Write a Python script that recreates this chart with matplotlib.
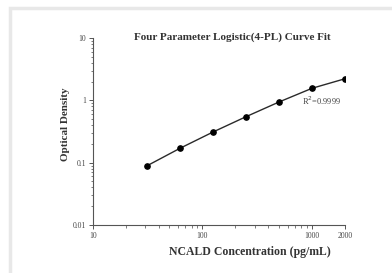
import matplotlib.pyplot as plt
import matplotlib.ticker as mticker
from matplotlib.patches import Rectangle

# standard curve values
conc = [31.25, 62.5, 125, 250, 500, 1000, 2000]
od = [0.089, 0.17, 0.31, 0.546, 0.94, 1.56, 2.22]
x_ticks = [10, 100, 1000, 2000]
x_tick_labels = ['10', '100', '1000', '2000']
y_ticks = [0.01, 0.1, 1, 10]
y_tick_labels = ['0.01', '0.1', '1', '10']

plt.rcParams['font.family'] = ['Liberation Serif', 'DejaVu Serif']

fig = plt.figure(figsize=(3.92, 2.73), dpi=100)
fig.patch.set_facecolor('white')

# light grey frame around the picture (top and left edges visible)
fig.patches.append(Rectangle((10 / 392, -0.1), 1.2, (273 - 8) / 273 + 0.1,
                             transform=fig.transFigure, facecolor='none',
                             edgecolor='#e8e8e8', linewidth=2.5))

ax = fig.add_axes([92.7 / 392, 1 - 225 / 273, (345 - 92.7) / 392, (225 - 38) / 273])
ax.plot(conc, od, color='#2a2a2a', linewidth=1.0, marker='o',
        markersize=3.8, markerfacecolor='black', markeredgecolor='black')

ax.set_xscale('log')
ax.set_yscale('log')
ax.set_xlim(10, 2000)
ax.set_ylim(0.01, 10)

for s in ['top', 'right']:
    ax.spines[s].set_visible(False)
for s in ['left', 'bottom']:
    ax.spines[s].set_color('#555555')
    ax.spines[s].set_linewidth(0.8)

ax.set_xticks(x_ticks)
ax.set_xticklabels(x_tick_labels)
ax.set_yticks(y_ticks)
ax.set_yticklabels(y_tick_labels)
ax.xaxis.set_minor_locator(mticker.LogLocator(base=10, subs=range(2, 10), numticks=20))
ax.yaxis.set_minor_locator(mticker.LogLocator(base=10, subs=range(2, 10), numticks=20))
ax.xaxis.set_minor_formatter(mticker.NullFormatter())
ax.yaxis.set_minor_formatter(mticker.NullFormatter())
ax.tick_params(which='major', length=3, width=0.7, color='#555555',
               labelsize=5.5, labelcolor='#444444', pad=2)
ax.tick_params(which='minor', length=1.8, width=0.6, color='#666666')

ax.text(0.83, 0.665, 'R$^2$=0.9999', transform=ax.transAxes,
        fontsize=6, color='#444444', ha='left', va='center')

fig.text(232 / 392, 1 - 37 / 273, 'Four Parameter Logistic(4-PL) Curve Fit',
         ha='center', va='center', fontsize=8, fontweight='bold', color='#333333')
fig.text(250 / 392, 1 - 252 / 273, 'NCALD Concentration (pg/mL)',
         ha='center', va='center', fontsize=8.5, fontweight='bold', color='#333333')
fig.text(65 / 392, 1 - 124 / 273, 'Optical Density', rotation=90,
         ha='center', va='center', fontsize=8, fontweight='bold', color='#333333')

fig.savefig('out.png', dpi=100)
